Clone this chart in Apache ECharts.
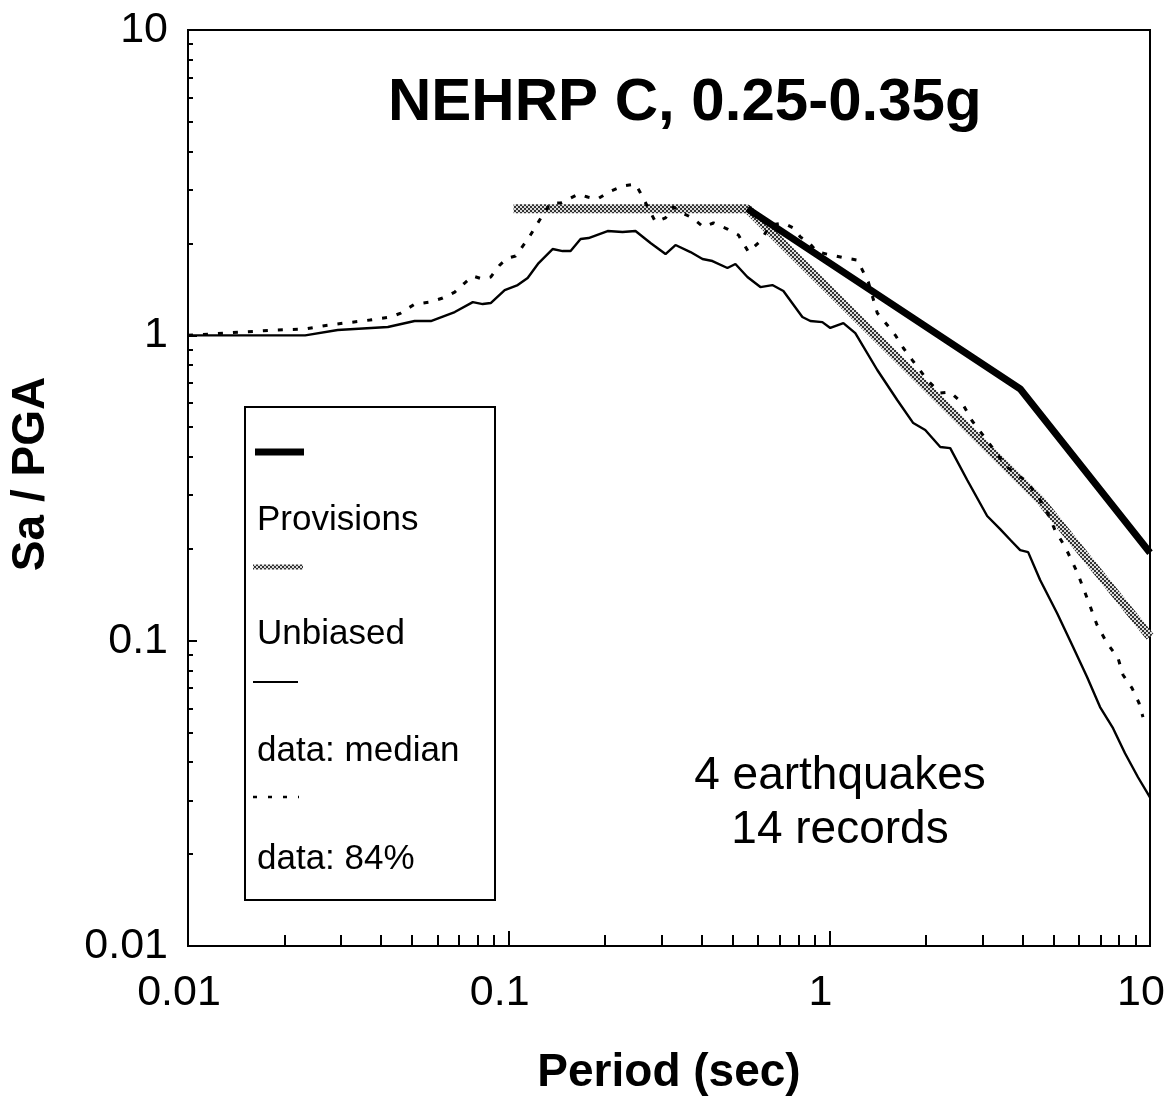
<!DOCTYPE html>
<html>
<head>
<meta charset="utf-8">
<title>NEHRP C, 0.25-0.35g</title>
<script src="https://cdn.jsdelivr.net/npm/echarts@6/dist/echarts.min.js"></script>
<style>
  html, body { margin: 0; padding: 0; background: #fff; }
  #chart { width: 1170px; height: 1104px; }
</style>
</head>
<body>
<div id="chart"></div>
<script>
// period (sec) and Sa/PGA
var provisionsT = [0.555, 3.94, 10]
var provisionsSa = [2.6, 0.667, 0.194]

var unbiasedT = [0.1036, 0.555, 4.54, 10]
var unbiasedSa = [2.6, 2.6, 0.289, 0.103]

var medianT = [0.01, 0.0232, 0.0293, 0.042, 0.0509, 0.0572, 0.0679, 0.0773, 0.083, 0.0879,
  0.0972, 0.1067, 0.1146, 0.124, 0.1371, 0.1473, 0.156, 0.1676, 0.1775, 0.2035,
  0.2265, 0.2486, 0.2769, 0.3084, 0.3313, 0.369, 0.4022, 0.432, 0.4811, 0.5095,
  0.5553, 0.6095, 0.6643, 0.719, 0.824, 0.8726, 0.951, 1.007, 1.106, 1.205,
  1.411, 1.628, 1.827, 1.991, 2.218, 2.382, 2.691, 3.106, 3.41, 3.664,
  3.936, 4.168, 4.543, 5.133, 5.756, 6.364, 6.986, 7.668, 8.357, 9.175, 10]
var medianSa = [1.0, 1.0, 1.041, 1.065, 1.114, 1.114, 1.192, 1.285, 1.266, 1.276,
  1.407, 1.461, 1.541, 1.725, 1.917, 1.888, 1.888, 2.067, 2.083, 2.196,
  2.179, 2.196, 2.006, 1.846, 1.976, 1.874, 1.778, 1.751, 1.662, 1.712,
  1.552, 1.439, 1.461, 1.397, 1.148, 1.114, 1.105, 1.057, 1.097, 1.017,
  0.77, 0.614, 0.516, 0.49, 0.431, 0.427, 0.336, 0.256, 0.232, 0.214,
  0.198, 0.195, 0.158, 0.123, 0.0953, 0.076, 0.0606, 0.0517, 0.0428, 0.0357, 0.0307]

var p84T = [0.01, 0.0188, 0.0232, 0.0263, 0.0308, 0.0369, 0.0429, 0.0461, 0.0509, 0.0567,
  0.0623, 0.0679, 0.0729, 0.0773, 0.083, 0.0879, 0.0938, 0.0993, 0.1051, 0.1154,
  0.1249, 0.1351, 0.1452, 0.156, 0.1652, 0.1762, 0.1894, 0.2049, 0.2265, 0.2486,
  0.2577, 0.2871, 0.3084, 0.3266, 0.3483, 0.3743, 0.405, 0.4351, 0.4811, 0.5206,
  0.5595, 0.6095, 0.655, 0.719, 0.7726, 0.8123, 0.8603, 0.9177, 1.121, 1.223,
  1.249, 1.323, 1.411, 1.516, 1.605, 1.701, 1.814, 2.02, 2.218, 2.382,
  2.596, 2.789, 3.062, 3.585, 4.139, 4.543, 4.776, 5.058, 5.435, 5.923,
  6.364, 6.837, 7.345, 7.949, 8.24, 8.79, 9.241, 9.507]
var p84Sa = [1.0, 1.041, 1.049, 1.073, 1.097, 1.122, 1.148, 1.183, 1.266, 1.285,
  1.325, 1.386, 1.483, 1.564, 1.529, 1.552, 1.699, 1.791, 1.819, 2.083,
  2.386, 2.713, 2.713, 2.817, 2.903, 2.838, 2.795, 2.947, 3.083, 3.13,
  2.925, 2.35, 2.423, 2.632, 2.515, 2.423, 2.263, 2.333, 2.229, 2.131,
  1.874, 2.037, 2.298, 2.333, 2.246, 2.099, 2.021, 1.874, 1.791, 1.764,
  1.687, 1.495, 1.183, 1.081, 1.002, 0.909, 0.83, 0.714, 0.647, 0.652,
  0.6, 0.524, 0.461, 0.37, 0.331, 0.289, 0.264, 0.23, 0.203, 0.168,
  0.138, 0.1125, 0.0982, 0.0877, 0.0772, 0.0699, 0.0625, 0.0562]

// minor tick positions on both log axes
var minorPeriodTicks = [0.02, 0.03, 0.04, 0.05, 0.06, 0.07, 0.08, 0.09,
  0.2, 0.3, 0.4, 0.5, 0.6, 0.7, 0.8, 0.9, 2, 3, 4, 5, 6, 7, 8, 9]
var minorSaTicks = [0.02, 0.03, 0.04, 0.05, 0.06, 0.07, 0.08, 0.09,
  0.2, 0.3, 0.4, 0.5, 0.6, 0.7, 0.8, 0.9, 2, 3, 4, 5, 6, 7, 8, 9]

var font = 'Liberation Sans, Arial, sans-serif'

function pairs(xs, ys) {
  return xs.map(function (x, i) { return [x, ys[i]] })
}

// grey checkered pattern used for the "Unbiased" line
function hatch() {
  var c = document.createElement('canvas')
  c.width = 4
  c.height = 4
  var g = c.getContext('2d')
  g.fillStyle = '#dcdcdc'
  g.fillRect(0, 0, 4, 4)
  g.fillStyle = '#333'
  g.fillRect(0, 0, 2, 2)
  g.fillRect(2, 2, 2, 2)
  return c
}
var hatchColor = { image: hatch(), repeat: 'repeat' }

var noZero = { onZero: false, lineStyle: { color: '#000', width: 2 } }

var chart = echarts.init(document.getElementById('chart'), null, { renderer: 'canvas' })

chart.setOption({
  backgroundColor: '#fff',
  animation: false,
  title: {
    text: 'NEHRP C, 0.25-0.35g',
    left: 383,
    top: 68,
    textStyle: { fontFamily: font, fontSize: 60, fontWeight: 'bold', color: '#000' }
  },
  grid: {
    left: 187,
    right: 20,
    top: 30,
    bottom: 158,
    show: true,
    borderColor: '#000',
    borderWidth: 2
  },
  xAxis: [
    {
      type: 'log',
      logBase: 10,
      min: 0.01,
      max: 10,
      name: 'Period (sec)',
      nameLocation: 'middle',
      nameGap: 104,
      nameTextStyle: { fontFamily: font, fontSize: 46, fontWeight: 'bold', color: '#000' },
      axisLine: noZero,
      axisTick: { inside: true, length: 15, lineStyle: { color: '#000', width: 2 } },
      axisLabel: {
        margin: 26, fontFamily: font, fontSize: 43, color: '#000',
        padding: [0, 18, 0, 0]   // labels sit a little left of their ticks
      },
      splitLine: { show: false }
    },
    {
      // helper axis in log10 units, only for the minor ticks
      type: 'value',
      min: -2,
      max: 1,
      position: 'bottom',
      axisLine: { show: false, onZero: false },
      axisLabel: { show: false },
      splitLine: { show: false },
      axisTick: {
        inside: true,
        length: 11,
        customValues: minorPeriodTicks.map(Math.log10),
        lineStyle: { color: '#000', width: 2 }
      }
    }
  ],
  yAxis: [
    {
      type: 'log',
      logBase: 10,
      min: 0.01,
      max: 10,
      name: 'Sa / PGA',
      nameLocation: 'middle',
      nameRotate: 90,
      nameGap: 134,
      nameTextStyle: {
        fontFamily: font, fontSize: 46, fontWeight: 'bold', color: '#000',
        padding: [0, 0, 0, 28]
      },
      axisLine: noZero,
      axisTick: { inside: true, length: 9, lineStyle: { color: '#000', width: 2 } },
      axisLabel: { margin: 20, fontFamily: font, fontSize: 43, color: '#000' },
      splitLine: { show: false }
    },
    {
      type: 'value',
      min: -2,
      max: 1,
      position: 'left',
      axisLine: { show: false, onZero: false },
      axisLabel: { show: false },
      splitLine: { show: false },
      axisTick: {
        inside: true,
        length: 5,
        customValues: minorSaTicks.map(Math.log10),
        lineStyle: { color: '#000', width: 2 }
      }
    }
  ],
  series: [
    {
      name: 'Unbiased',
      type: 'line',
      data: pairs(unbiasedT, unbiasedSa),
      showSymbol: false,
      lineStyle: { color: hatchColor, width: 9 },
      z: 2
    },
    {
      name: 'Provisions',
      type: 'line',
      data: pairs(provisionsT, provisionsSa),
      showSymbol: false,
      lineStyle: { color: '#000', width: 7 },
      z: 3
    },
    {
      name: 'data: median',
      type: 'line',
      data: pairs(medianT, medianSa),
      showSymbol: false,
      lineStyle: { color: '#000', width: 2.4 },
      z: 4
    },
    {
      name: 'data: 84%',
      type: 'line',
      data: pairs(p84T, p84Sa),
      showSymbol: false,
      lineStyle: { color: '#000', width: 3, type: [5, 10] },
      z: 5
    }
  ],
  // the boxed legend: symbol on one row, name on the row below
  graphic: [
    {
      type: 'rect',
      shape: { x: 245, y: 407, width: 250, height: 493 },
      style: { fill: '#fff', stroke: '#000', lineWidth: 2 },
      z: 10
    },
    { type: 'line', shape: { x1: 255, y1: 452, x2: 304, y2: 452 }, style: { stroke: '#000', lineWidth: 7 }, z: 11 },
    { type: 'text', x: 257, y: 520, style: { text: 'Provisions', font: '35px ' + font, fill: '#000', textVerticalAlign: 'middle' }, z: 11 },
    { type: 'line', shape: { x1: 253, y1: 567, x2: 303, y2: 567 }, style: { stroke: hatchColor, lineWidth: 5 }, z: 11 },
    { type: 'text', x: 257, y: 634, style: { text: 'Unbiased', font: '35px ' + font, fill: '#000', textVerticalAlign: 'middle' }, z: 11 },
    { type: 'line', shape: { x1: 253, y1: 682, x2: 298, y2: 682 }, style: { stroke: '#000', lineWidth: 2 }, z: 11 },
    { type: 'text', x: 257, y: 751, style: { text: 'data: median', font: '35px ' + font, fill: '#000', textVerticalAlign: 'middle' }, z: 11 },
    { type: 'line', shape: { x1: 253, y1: 797, x2: 299, y2: 797 }, style: { stroke: '#000', lineWidth: 2.5, lineDash: [4, 11] }, z: 11 },
    { type: 'text', x: 257, y: 859, style: { text: 'data: 84%', font: '35px ' + font, fill: '#000', textVerticalAlign: 'middle' }, z: 11 },
    {
      type: 'text',
      x: 840,
      y: 803,
      style: {
        text: '4 earthquakes\n14 records',
        font: '46px ' + font,
        fill: '#000',
        textAlign: 'center',
        textVerticalAlign: 'middle',
        lineHeight: 54
      },
      z: 11
    }
  ]
})
</script>
</body>
</html>
